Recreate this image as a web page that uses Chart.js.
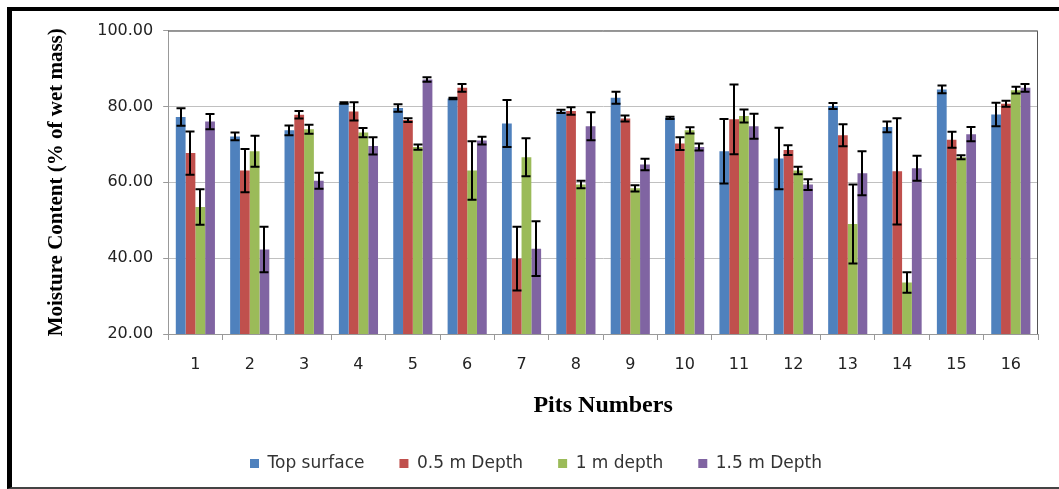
<!DOCTYPE html>
<html>
<head>
<meta charset="utf-8">
<script src="https://cdn.jsdelivr.net/npm/chart.js@4"></script>
<style>
  body { margin: 0; background: #fff; }
  #frame {
    position: absolute; left: 7px; top: 7px; width: 1052px; height: 482px;
    box-sizing: border-box;
    border-left: 5px solid #000; border-top: 4px solid #000; border-bottom: 2px solid #444;
  }
  #wrap { position: relative; width: 100%; height: 100%; }
</style>
</head>
<body>
<div id="frame"><div id="wrap"><canvas id="myChart"></canvas></div></div>
<script>
// pits on the x axis
var pits = ['1','2','3','4','5','6','7','8','9','10','11','12','13','14','15','16'];
var seriesNames = ['Top surface', '0.5 m Depth', '1 m depth', '1.5 m Depth'];

// moisture content (% of wet mass) and error bar half-lengths
var topSurface = [77.2, 72.1, 73.7, 80.9, 79.6, 82.1, 75.5, 78.7, 82.3, 77.0, 68.2, 66.3, 80.1, 74.6, 84.5, 77.9];
var topErr     = [2.3, 1.0, 1.3, 0.2, 1.0, 0.2, 6.2, 0.4, 1.6, 0.3, 8.5, 8.1, 0.8, 1.4, 1.0, 3.1];
var depth05    = [67.7, 63.1, 77.8, 78.7, 76.4, 84.9, 39.9, 78.8, 76.8, 70.2, 76.6, 68.5, 72.4, 62.9, 71.2, 80.7];
var depth05Err = [5.7, 5.7, 1.0, 2.4, 0.5, 1.0, 8.4, 1.0, 0.8, 1.7, 9.2, 1.3, 2.9, 14.0, 2.1, 0.8];
var depth1     = [53.5, 68.2, 74.0, 73.1, 69.3, 63.1, 66.6, 59.4, 58.4, 73.7, 77.5, 63.1, 49.0, 33.6, 66.6, 84.3];
var depth1Err  = [4.7, 4.1, 1.2, 1.2, 0.7, 7.7, 5.0, 1.0, 0.8, 0.8, 1.7, 1.0, 10.4, 2.7, 0.5, 0.9];
var depth15    = [76.0, 42.3, 60.4, 69.6, 87.1, 71.0, 42.5, 74.8, 64.7, 69.3, 74.8, 59.4, 62.4, 63.7, 72.7, 84.9];
var depth15Err = [2.0, 6.0, 2.1, 2.3, 0.6, 1.0, 7.2, 3.7, 1.5, 0.9, 3.3, 1.4, 5.8, 3.3, 1.9, 1.0];

var colors = ['#4F81BD', '#C0504D', '#9BBB59', '#8064A2'];
var values = [topSurface, depth05, depth1, depth15];
var errors = [topErr, depth05Err, depth1Err, depth15Err];

// draw the black error bars on top of the bars
var errorBars = {
  id: 'errorBars',
  afterDatasetsDraw: function (chart) {
    var ctx = chart.ctx;
    var y = chart.scales.y;
    ctx.save();
    ctx.strokeStyle = '#000';
    ctx.lineWidth = 2;
    chart.data.datasets.forEach(function (ds, i) {
      var meta = chart.getDatasetMeta(i);
      meta.data.forEach(function (bar, j) {
        var v = ds.data[j], e = errors[i][j];
        var x = Math.round(bar.x);
        var top = y.getPixelForValue(v + e);
        var bot = y.getPixelForValue(v - e);
        ctx.beginPath();
        ctx.moveTo(x, top); ctx.lineTo(x, bot);
        ctx.moveTo(x - 4.5, top); ctx.lineTo(x + 4.5, top);
        ctx.moveTo(x - 4.5, bot); ctx.lineTo(x + 4.5, bot);
        ctx.stroke();
      });
    });
    ctx.restore();
  }
};

// top and right border of the plot area
var plotBorder = {
  id: 'plotBorder',
  beforeDatasetsDraw: function (chart) {
    var a = chart.chartArea, ctx = chart.ctx;
    ctx.save();
    ctx.strokeStyle = '#555';
    ctx.lineWidth = 1;
    ctx.beginPath();
    ctx.moveTo(a.left, a.top + 0.5); ctx.lineTo(a.right - 0.5, a.top + 0.5);
    ctx.lineTo(a.right - 0.5, a.bottom);
    ctx.stroke();
    ctx.restore();
  }
};

// give the legend a bit more room so it sits higher
var legendGrow = {
  id: 'legendGrow',
  beforeInit: function (chart) {
    var fit = chart.legend.fit;
    chart.legend.fit = function () {
      fit.bind(chart.legend)();
      this.height += 5;
    };
  }
};

var datasets = seriesNames.map(function (name, i) {
  return {
    label: name,
    data: values[i],
    backgroundColor: colors[i],
    borderWidth: 0,
    categoryPercentage: 0.72,
    barPercentage: 1.0
  };
});

var ctx = document.getElementById('myChart').getContext('2d');
var myChart = new Chart(ctx, {
  type: 'bar',
  data: { labels: pits, datasets: datasets },
  plugins: [errorBars, plotBorder, legendGrow],
  options: {
    responsive: true,
    maintainAspectRatio: false,
    animation: false,
    layout: { padding: { left: 22, right: 21, top: 0, bottom: 0 } },
    plugins: {
      tooltip: { enabled: false },
      legend: {
        position: 'bottom',
        labels: {
          boxWidth: 9, boxHeight: 9, padding: 35, color: '#333',
          font: { family: 'DejaVu Sans', size: 17 }
        }
      }
    },
    scales: {
      x: {
        grid: { display: true, drawOnChartArea: false, drawTicks: true, tickLength: 6, color: '#999' },
        border: { color: '#999' },
        ticks: { color: '#222', padding: 15, font: { family: 'DejaVu Sans', size: 16 } },
        title: {
          display: true, text: 'Pits Numbers', color: '#000',
          font: { family: 'Liberation Serif', size: 24, weight: 'bold' },
          padding: { top: 2, bottom: 0 }
        }
      },
      y: {
        min: 20, max: 100,
        grid: { color: '#c0c0c0', tickLength: 5, tickColor: '#999' },
        border: { color: '#999' },
        ticks: {
          stepSize: 20, color: '#222', padding: 10,
          font: { family: 'DejaVu Sans', size: 16 },
          callback: function (v) { return v.toFixed(2); }
        },
        title: {
          display: true, text: 'Moisture Content (% of wet mass)', color: '#000',
          font: { family: 'Liberation Serif', size: 21, weight: 'bold' },
          padding: { top: 10, bottom: 18 }
        }
      }
    }
  }
});
</script>
</body>
</html>
